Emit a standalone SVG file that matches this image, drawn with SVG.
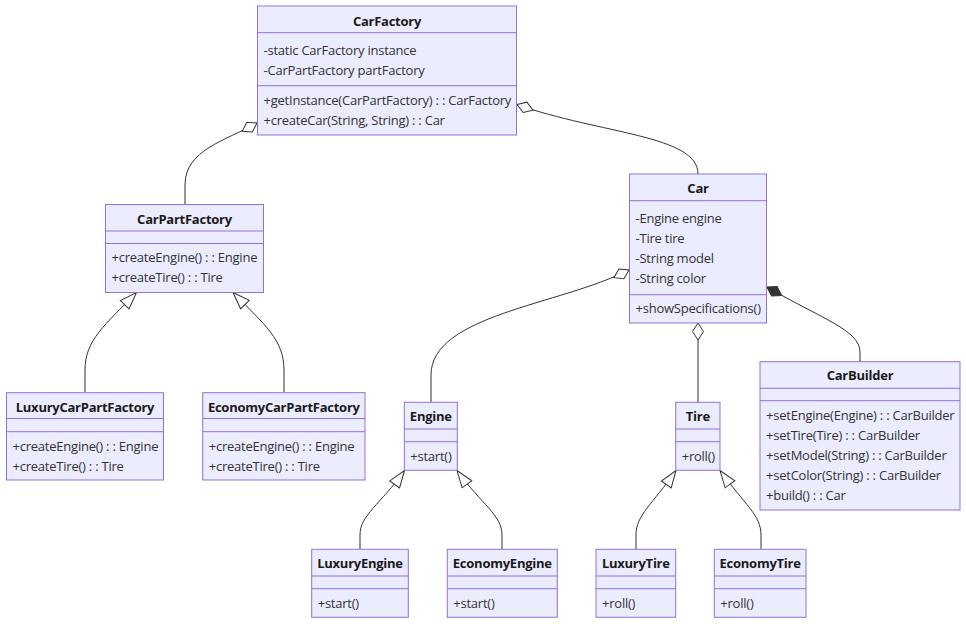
<svg xmlns="http://www.w3.org/2000/svg" width="966" height="624" viewBox="0 0 966 624">
<style>
.box{fill:#ECECFF;stroke:#9370DB;stroke-width:1}
.div{stroke:#9370DB;stroke-width:1}
.t{font-family:"Open Sans","Noto Sans","Liberation Sans",sans-serif;font-size:13px;letter-spacing:-0.25px;font-weight:bold;fill:#1a1a1a;text-anchor:middle}
.m{font-family:"Open Sans","Noto Sans","Liberation Sans",sans-serif;font-size:13px;letter-spacing:-0.23px;fill:#333}
.e{fill:none;stroke:#333;stroke-width:1}
</style>
<defs>
<marker id="agg" markerUnits="userSpaceOnUse" viewBox="0 0 20 14" refX="1" refY="7" markerWidth="20" markerHeight="14" orient="auto"><path d="M1,7 L9.5,1.5 L18,7 L9.5,12.5 Z" fill="#fff" stroke="#333" stroke-width="1"/></marker>
<marker id="comp" markerUnits="userSpaceOnUse" viewBox="0 0 20 14" refX="1" refY="7" markerWidth="20" markerHeight="14" orient="auto"><path d="M1,7 L9.5,1.5 L18,7 L9.5,12.5 Z" fill="#333" stroke="#333" stroke-width="1"/></marker>
<marker id="ext" markerUnits="userSpaceOnUse" viewBox="0 0 20 14" refX="1" refY="7" markerWidth="20" markerHeight="14" orient="auto"><path d="M1,7 L18,1 L18,13 Z" fill="#fff" stroke="#333" stroke-width="1"/></marker>
</defs>
<g id="connectors">
<path class="e" marker-start="url(#agg)" d="M257,123 C225,141 185,150 185,185 L185,204.5"/>
<path class="e" marker-start="url(#agg)" d="M517,104.5 C600,134 698,135 698,174"/>
<path class="e" marker-start="url(#agg)" d="M629,270 C560,305 431,315 431,375 L431,402"/>
<path class="e" marker-start="url(#agg)" d="M698,323 L698,402"/>
<path class="e" marker-start="url(#comp)" d="M767,287 C820,318 860,330 860,352 L860,362"/>
<path class="e" marker-start="url(#ext)" d="M136.5,292.5 C105,325 85,340 85,370 L85,392.5"/>
<path class="e" marker-start="url(#ext)" d="M233,292.5 C265,325 284,340 284,370 L284,392.5"/>
<path class="e" marker-start="url(#ext)" d="M404.5,470.5 C380,505 360,515 360,535 L360,549"/>
<path class="e" marker-start="url(#ext)" d="M457,470.5 C482,505 502,515 502,535 L502,549"/>
<path class="e" marker-start="url(#ext)" d="M676,470.5 C652,505 636,515 636,535 L636,549"/>
<path class="e" marker-start="url(#ext)" d="M720,470.5 C745,505 761,515 761,535 L761,549"/>
</g>
<g id="CarFactory">
<rect class="box" x="257.5" y="6" width="259" height="129"/>
<line class="div" x1="257.5" y1="32.7" x2="516.5" y2="32.7"/>
<line class="div" x1="257.5" y1="85.7" x2="516.5" y2="85.7"/>
<text class="t" x="387" y="25.5">CarFactory</text>
<text class="m" x="263.5" y="55">-static CarFactory instance</text>
<text class="m" x="263.5" y="75">-CarPartFactory partFactory</text>
<text class="m" x="263.5" y="105">+getInstance(CarPartFactory) : : CarFactory</text>
<text class="m" x="263.5" y="124.5">+createCar(String, String) : : Car</text>
</g>
<g id="CarPartFactory">
<rect class="box" x="105.5" y="204.5" width="158" height="88"/>
<line class="div" x1="105.5" y1="231" x2="263.5" y2="231"/>
<line class="div" x1="105.5" y1="243.5" x2="263.5" y2="243.5"/>
<text class="t" x="184.5" y="223.5">CarPartFactory</text>
<text class="m" x="111.5" y="262">+createEngine() : : Engine</text>
<text class="m" x="111.5" y="282">+createTire() : : Tire</text>
</g>
<g id="Car">
<rect class="box" x="629.5" y="174" width="137" height="149"/>
<line class="div" x1="629.5" y1="200.7" x2="766.5" y2="200.7"/>
<line class="div" x1="629.5" y1="294.7" x2="766.5" y2="294.7"/>
<text class="t" x="698" y="192.5">Car</text>
<text class="m" x="635.5" y="222.5">-Engine engine</text>
<text class="m" x="635.5" y="242.5">-Tire tire</text>
<text class="m" x="635.5" y="262.5">-String model</text>
<text class="m" x="635.5" y="282.5">-String color</text>
<text class="m" x="635.5" y="312.5">+showSpecifications()</text>
</g>
<g id="CarBuilder">
<rect class="box" x="760" y="361.7" width="200" height="148.3"/>
<line class="div" x1="760" y1="388.3" x2="960" y2="388.3"/>
<line class="div" x1="760" y1="400.7" x2="960" y2="400.7"/>
<text class="t" x="860" y="380.3">CarBuilder</text>
<text class="m" x="766" y="419.5">+setEngine(Engine) : : CarBuilder</text>
<text class="m" x="766" y="439.5">+setTire(Tire) : : CarBuilder</text>
<text class="m" x="766" y="459.5">+setModel(String) : : CarBuilder</text>
<text class="m" x="766" y="479.5">+setColor(String) : : CarBuilder</text>
<text class="m" x="766" y="499.5">+build() : : Car</text>
</g>
<g id="LuxuryCarPartFactory">
<rect class="box" x="6.5" y="392.7" width="157" height="87.3"/>
<line class="div" x1="6.5" y1="418.5" x2="163.5" y2="418.5"/>
<line class="div" x1="6.5" y1="431.7" x2="163.5" y2="431.7"/>
<text class="t" x="85" y="411.7">LuxuryCarPartFactory</text>
<text class="m" x="12.5" y="450.5">+createEngine() : : Engine</text>
<text class="m" x="12.5" y="470.5">+createTire() : : Tire</text>
</g>
<g id="EconomyCarPartFactory">
<rect class="box" x="202.7" y="392.7" width="162.3" height="87.3"/>
<line class="div" x1="202.7" y1="418.5" x2="365" y2="418.5"/>
<line class="div" x1="202.7" y1="431.7" x2="365" y2="431.7"/>
<text class="t" x="283.8" y="411.7">EconomyCarPartFactory</text>
<text class="m" x="208.7" y="450.5">+createEngine() : : Engine</text>
<text class="m" x="208.7" y="470.5">+createTire() : : Tire</text>
</g>
<g id="Engine">
<rect class="box" x="404.3" y="402.3" width="53" height="68"/>
<line class="div" x1="404.3" y1="429" x2="457.3" y2="429"/>
<line class="div" x1="404.3" y1="441.7" x2="457.3" y2="441.7"/>
<text class="t" x="430.8" y="421">Engine</text>
<text class="m" x="410.3" y="461">+start()</text>
</g>
<g id="Tire">
<rect class="box" x="675.7" y="402.3" width="44.3" height="68"/>
<line class="div" x1="675.7" y1="429" x2="720" y2="429"/>
<line class="div" x1="675.7" y1="441.7" x2="720" y2="441.7"/>
<text class="t" x="697.8" y="421">Tire</text>
<text class="m" x="681.7" y="461">+roll()</text>
</g>
<g id="LuxuryEngine">
<rect class="box" x="311.7" y="549.3" width="96.6" height="68"/>
<line class="div" x1="311.7" y1="576" x2="408.3" y2="576"/>
<line class="div" x1="311.7" y1="588.7" x2="408.3" y2="588.7"/>
<text class="t" x="360" y="568">LuxuryEngine</text>
<text class="m" x="317.7" y="607.5">+start()</text>
</g>
<g id="EconomyEngine">
<rect class="box" x="447.3" y="549.3" width="110" height="68"/>
<line class="div" x1="447.3" y1="576" x2="557.3" y2="576"/>
<line class="div" x1="447.3" y1="588.7" x2="557.3" y2="588.7"/>
<text class="t" x="502.3" y="568">EconomyEngine</text>
<text class="m" x="453.3" y="607.5">+start()</text>
</g>
<g id="LuxuryTire">
<rect class="box" x="596" y="549.3" width="79.7" height="68"/>
<line class="div" x1="596" y1="576" x2="675.7" y2="576"/>
<line class="div" x1="596" y1="588.7" x2="675.7" y2="588.7"/>
<text class="t" x="635.8" y="568">LuxuryTire</text>
<text class="m" x="602" y="607.5">+roll()</text>
</g>
<g id="EconomyTire">
<rect class="box" x="714.3" y="549.3" width="91.7" height="68"/>
<line class="div" x1="714.3" y1="576" x2="806" y2="576"/>
<line class="div" x1="714.3" y1="588.7" x2="806" y2="588.7"/>
<text class="t" x="760.1" y="568">EconomyTire</text>
<text class="m" x="720.3" y="607.5">+roll()</text>
</g>
</svg>
